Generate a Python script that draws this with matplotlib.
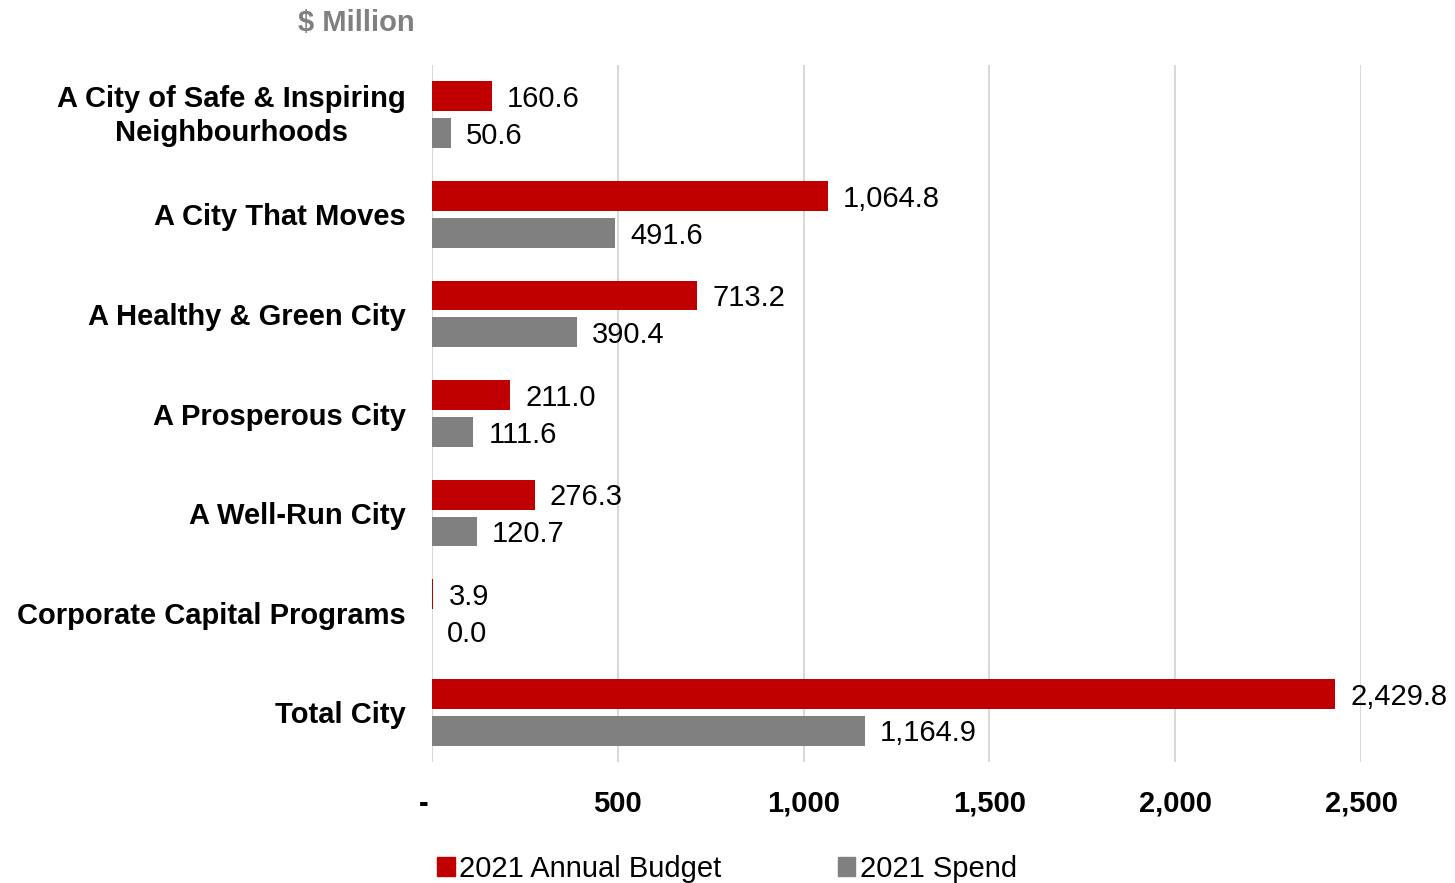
import matplotlib
matplotlib.use("Agg")
import matplotlib.pyplot as plt
import matplotlib.transforms as mtransforms
import numpy as np
from matplotlib.patches import Patch

categories = [
    "A City of Safe & Inspiring\nNeighbourhoods",
    "A City That Moves",
    "A Healthy & Green City",
    "A Prosperous City",
    "A Well-Run City",
    "Corporate Capital Programs",
    "Total City",
]
budget = [160.6, 1064.8, 713.2, 211.0, 276.3, 3.9, 2429.8]
spend = [50.6, 491.6, 390.4, 111.6, 120.7, 0.0, 1164.9]
xticks = [0, 500, 1000, 1500, 2000, 2500]
xticklabels = ["-", "500", "1,000", "1,500", "2,000", "2,500"]

RED = "#C00000"
GREY = "#808080"
FS = 21

plt.rcParams["font.family"] = ["Liberation Sans", "DejaVu Sans"]

fig = plt.figure(figsize=(14.55, 8.83), dpi=100)
ax = fig.add_axes([432 / 1455, 1 - 762 / 883, 929 / 1455, 697 / 883])

y = np.arange(len(categories))
h = 0.30
ax.barh(y - 0.185, budget, height=h, color=RED, zorder=3)
ax.barh(y + 0.185, spend, height=h, color=GREY, zorder=3)

for yi, b, s in zip(y, budget, spend):
    ax.annotate(f"{b:,.1f}", (b, yi - 0.185), xytext=(11, -2),
                textcoords="offset points", va="center", ha="left", fontsize=FS)
    ax.annotate(f"{s:,.1f}", (s, yi + 0.185), xytext=(11, -2),
                textcoords="offset points", va="center", ha="left", fontsize=FS)

ax.set_xlim(0, 2500)
ax.set_ylim(len(categories) - 0.5, -0.5)
ax.set_xticks(xticks)
ax.set_xticklabels(xticklabels, fontsize=FS, fontweight="bold")
ax.set_yticks(y)
ax.set_yticklabels(categories, fontsize=FS, fontweight="bold")
for lab in ax.get_yticklabels():
    lab.set_multialignment("center")
    lab.set_linespacing(1.28)
ax.tick_params(axis="both", length=0)
ax.tick_params(axis="y", pad=19)
ax.tick_params(axis="x", pad=20)
zero_lab = ax.get_xticklabels()[0]
zero_lab.set_transform(zero_lab.get_transform()
                       + mtransforms.ScaledTranslation(-0.08, 0, fig.dpi_scale_trans))
first_lab = ax.get_yticklabels()[0]
first_lab.set_transform(first_lab.get_transform()
                        + mtransforms.ScaledTranslation(0, 0.05, fig.dpi_scale_trans))

ax.grid(axis="x", color="#D9D9D9", linewidth=1.5, zorder=0)
for sp in ax.spines.values():
    sp.set_visible(False)

fig.text(356 / 1455, 1 - 23 / 883, "$ Million", color=GREY, fontsize=FS,
         fontweight="bold", ha="center", va="center")

handles = [Patch(color=RED, label="2021 Annual Budget"),
           Patch(color=GREY, label="2021 Spend")]
fig.legend(handles=handles, loc="center", bbox_to_anchor=(727 / 1455, 1 - 869 / 883),
           ncol=2, frameon=False, fontsize=FS, handlelength=0.6, handleheight=0.6,
           handletextpad=0.15, columnspacing=4.0)

fig.savefig("out.png", dpi=100)
